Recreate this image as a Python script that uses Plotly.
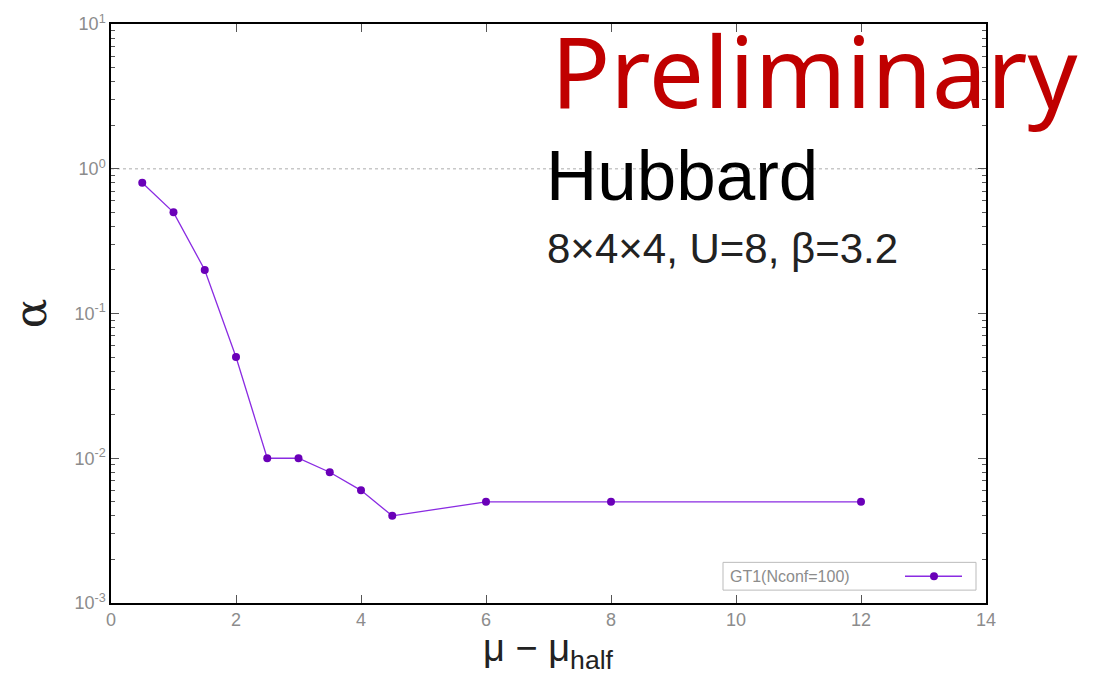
import plotly.graph_objects as go

# GT1 parameter alpha versus shifted chemical potential
mu_shift = [0.5, 1.0, 1.5, 2.0, 2.5, 3.0, 3.5, 4.0, 4.5, 6.0, 8.0, 12.0]
alpha = [0.8, 0.5, 0.2, 0.05, 0.01, 0.01, 0.008, 0.006, 0.004, 0.005, 0.005, 0.005]
series_name = "GT1(Nconf=100)"

y_tickvals = [1e-3, 1e-2, 1e-1, 1e0, 1e1]
y_ticktext = ["10<sup>-3</sup>", "10<sup>-2</sup>", "10<sup>-1</sup>", "10<sup>0</sup>", "10<sup>1</sup>"]
x_tickvals = [0, 2, 4, 6, 8, 10, 12, 14]

LINE = "#8a2be2"
MARK = "#6a00b8"
GRAY = "#8c8c8c"

# plot-area geometry in pixels, used to place paper-referenced decorations
L, R, T, B = 111, 986, 19, 603
W, H = R - L, B - T


def px(x):
    return (x - L) / W


def py(y):
    return (B - y) / H


fig = go.Figure()
fig.add_trace(go.Scatter(
    x=mu_shift, y=alpha, mode="lines+markers", name=series_name,
    line=dict(color=LINE, width=1.3),
    marker=dict(color=MARK, size=8),
    showlegend=False,
))

# dotted reference line at alpha = 1
fig.add_shape(type="line", xref="paper", x0=0, x1=1, yref="y", y0=1, y1=1,
              line=dict(color="#c8c8c8", width=1.5, dash="dot"), layer="below")

# legend box (bottom right)
fig.add_shape(type="rect", xref="paper", yref="paper",
              x0=px(723), x1=px(976), y0=py(590), y1=py(562),
              line=dict(color="#bbbbbb", width=1), fillcolor="white")
fig.add_annotation(xref="paper", yref="paper", x=px(728), y=py(576),
                   text=series_name, showarrow=False, xanchor="left", yanchor="middle",
                   font=dict(family="Liberation Sans", size=16, color=GRAY))
fig.add_shape(type="line", xref="paper", yref="paper",
              x0=px(905), x1=px(962), y0=py(576), y1=py(576),
              line=dict(color=LINE, width=1.3))
fig.add_shape(type="circle", xref="paper", yref="paper",
              x0=px(930), x1=px(938), y0=py(580), y1=py(572),
              line=dict(color=MARK, width=0), fillcolor=MARK)

# text labels
fig.add_annotation(xref="paper", yref="paper", x=px(549), y=py(65),
                   text="Preliminary", showarrow=False, xanchor="left", yanchor="middle",
                   font=dict(family="Noto Sans", size=98, color="#c00000"))
fig.add_annotation(xref="paper", yref="paper", x=px(544), y=py(172),
                   text="Hubbard", showarrow=False, xanchor="left", yanchor="middle",
                   font=dict(family="Liberation Sans", size=71, color="black"))
fig.add_annotation(xref="paper", yref="paper", x=px(545), y=py(245),
                   text="8×4×4, U=8, β=3.2", showarrow=False, xanchor="left", yanchor="middle",
                   font=dict(family="Liberation Sans", size=42, color="#222222"))

# x-axis title, placed below the tick labels
fig.add_annotation(xref="paper", yref="paper", x=px(548), y=py(651),
                   text="μ − μ<sub>half</sub>", showarrow=False, xanchor="center", yanchor="middle",
                   font=dict(family="Liberation Sans", size=38, color="#222222"))

axis_common = dict(
    showline=True, linecolor="black", linewidth=1.5, mirror="allticks",
    ticks="inside", ticklen=8, tickcolor="#555555", showgrid=False, zeroline=False,
    tickfont=dict(family="Liberation Sans", size=18, color=GRAY),
)

fig.update_xaxes(range=[0, 14], tickvals=x_tickvals, **axis_common)
fig.update_yaxes(
    type="log", range=[-3, 1], tickvals=y_tickvals, ticktext=y_ticktext,
    minor=dict(ticks="inside", ticklen=4, tickcolor="#555555", showgrid=False,
               tickvals=[m * 10 ** e for e in range(-3, 1) for m in range(2, 10)]),
    title=dict(text="α", font=dict(family="DejaVu Serif", size=44, color="#222222"), standoff=14),
    **axis_common,
)

fig.update_layout(
    width=1107, height=677,
    margin=dict(l=L, r=1107 - R, t=T, b=677 - B),
    paper_bgcolor="white", plot_bgcolor="white",
)

fig.write_html("out.html")
